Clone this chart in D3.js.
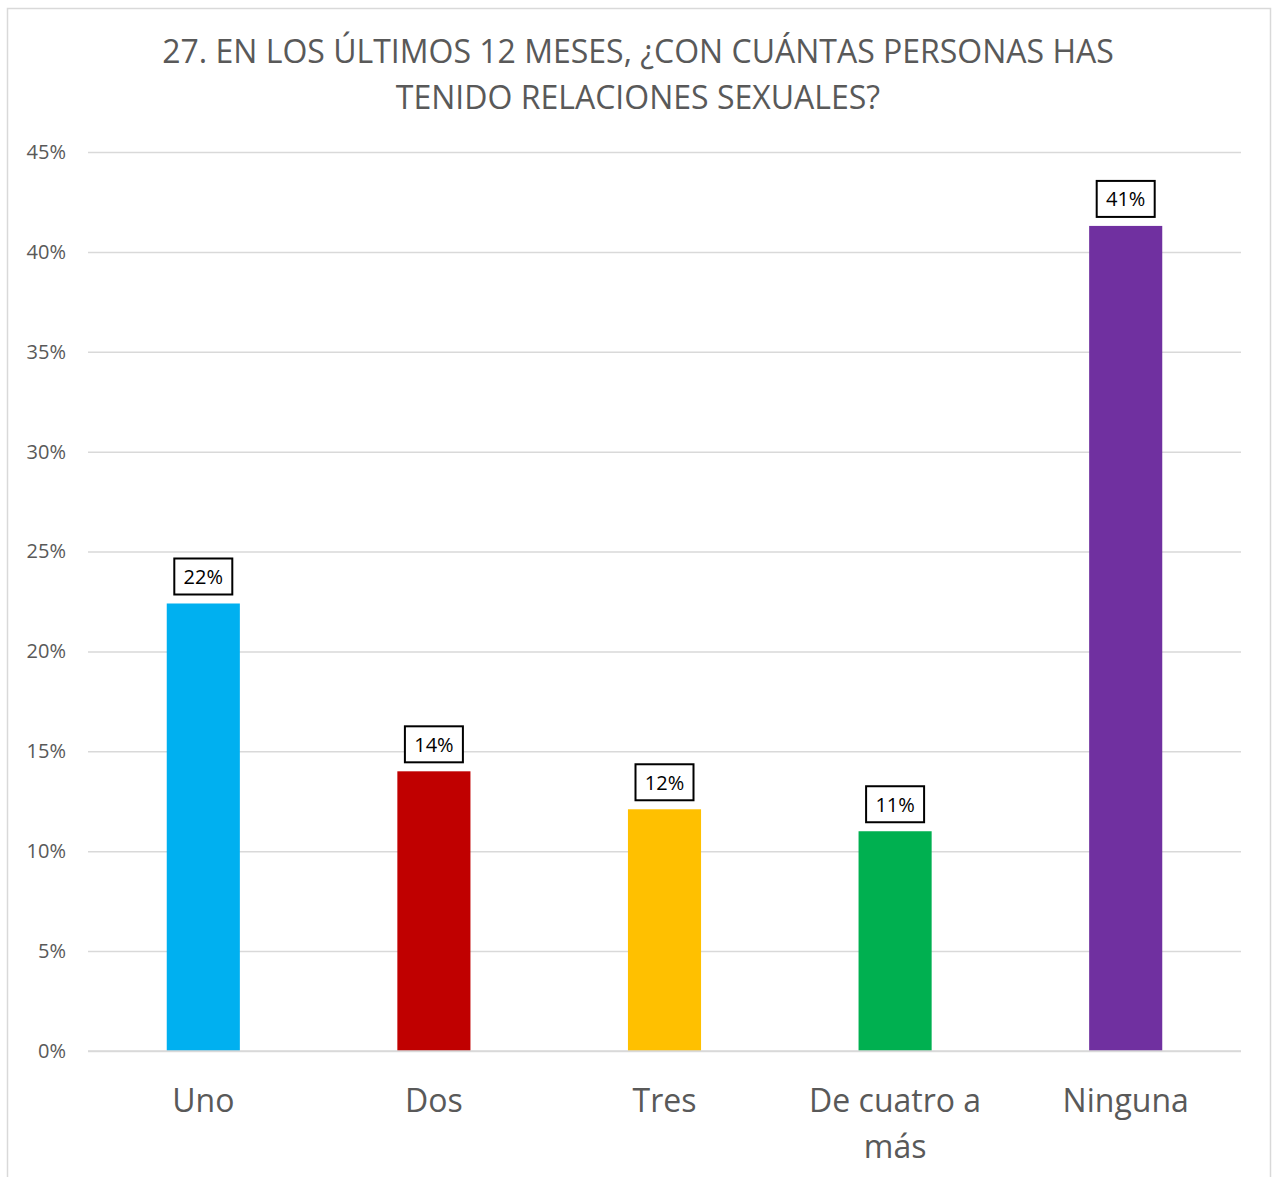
<!DOCTYPE html>
<html>
<head>
<meta charset="utf-8">
<script src="https://cdn.jsdelivr.net/npm/d3@7"></script>
<style>
  body { margin: 0; background: #fff; }
  svg { display: block; }
</style>
</head>
<body>
<div id="chart"></div>
<script>
// data
var categories = ["Uno", "Dos", "Tres", "De cuatro a más", "Ninguna"];
var values = [0.224, 0.140, 0.121, 0.110, 0.413];
var labels = ["22%", "14%", "12%", "11%", "41%"];
var colors = ["#00B0F0", "#C00000", "#FFC000", "#00B050", "#7030A0"];
var yTicks = [0, 0.05, 0.10, 0.15, 0.20, 0.25, 0.30, 0.35, 0.40, 0.45];
var titleLines = ["27. EN LOS ÚLTIMOS 12 MESES, ¿CON CUÁNTAS PERSONAS HAS", "TENIDO RELACIONES SEXUALES?"];

var W = 1272, H = 1177;
var margin = {top: 152, right: 31, bottom: 126, left: 88},
    width = W - margin.left - margin.right,
    height = H - margin.top - margin.bottom;
var font = "'Open Sans', 'Noto Sans', sans-serif";

var svg = d3.select("#chart").append("svg")
    .attr("width", W)
    .attr("height", H);

// chart frame
svg.append("rect")
    .attr("x", 7.5).attr("y", 8.5)
    .attr("width", 1263).attr("height", 1190)
    .attr("fill", "#fff")
    .attr("stroke", "#d9d9d9")
    .attr("stroke-width", 1.5);

// title
svg.append("text")
    .attr("x", 638)
    .attr("text-anchor", "middle")
    .style("font-family", font)
    .style("font-size", "32px")
    .attr("fill", "#595959")
    .selectAll("tspan")
    .data(titleLines)
    .enter().append("tspan")
    .attr("x", 638)
    .attr("y", function(d, i) { return 63 + i * 46; })
    .text(function(d) { return d; });

var g = svg.append("g")
    .attr("transform", "translate(" + margin.left + "," + margin.top + ")");

var x = d3.scaleBand()
    .domain(categories)
    .range([0, width])
    .padding(0);
var barW = x.bandwidth() * 0.317;

var y = d3.scaleLinear()
    .domain([0, 0.45])
    .range([height, 0]);

// gridlines + y axis
var yAxis = g.append("g")
    .call(d3.axisLeft(y).tickValues(yTicks).tickFormat(d3.format(".0%")).tickSize(-width).tickPadding(22));
yAxis.select(".domain").remove();
yAxis.selectAll(".tick line").attr("stroke", "#d9d9d9").attr("stroke-width", 1.5);
yAxis.selectAll(".tick text")
    .attr("fill", "#595959")
    .style("font-family", font)
    .style("font-size", "20px");

// bars
g.selectAll(".bar")
    .data(values)
    .enter().append("rect")
    .attr("class", "bar")
    .attr("x", function(d, i) { return x(categories[i]) + (x.bandwidth() - barW) / 2; })
    .attr("width", barW)
    .attr("y", function(d) { return y(d); })
    .attr("height", function(d) { return height - y(d); })
    .attr("fill", function(d, i) { return colors[i]; });

// data labels in boxes
var lab = g.selectAll(".lab")
    .data(values)
    .enter().append("g")
    .attr("class", "lab")
    .attr("transform", function(d, i) {
      return "translate(" + (x(categories[i]) + x.bandwidth() / 2) + "," + (y(d) - 8) + ")";
    });
lab.append("rect")
    .attr("x", -29).attr("y", -37)
    .attr("width", 58).attr("height", 36)
    .attr("fill", "#fff")
    .attr("stroke", "#000")
    .attr("stroke-width", 2);
lab.append("text")
    .attr("y", -11.5)
    .attr("text-anchor", "middle")
    .style("font-family", font)
    .style("font-size", "20px")
    .attr("fill", "#000")
    .text(function(d, i) { return labels[i]; });

// category labels (wrapped like the original)
var catLines = {"De cuatro a más": ["De cuatro a", "más"]};
var xAxis = g.append("g").attr("transform", "translate(0," + height + ")");
xAxis.append("line")
    .attr("x1", 0).attr("x2", width)
    .attr("stroke", "#d9d9d9").attr("stroke-width", 1.5);
xAxis.selectAll(".cat")
    .data(categories)
    .enter().append("text")
    .attr("class", "cat")
    .attr("text-anchor", "middle")
    .style("font-family", font)
    .style("font-size", "32px")
    .attr("fill", "#595959")
    .each(function(c) {
      var lines = catLines[c] || [c];
      var cx = x(c) + x.bandwidth() / 2;
      d3.select(this).selectAll("tspan")
        .data(lines)
        .enter().append("tspan")
        .attr("x", cx)
        .attr("y", function(d, i) { return 61 + i * 46; })
        .text(function(d) { return d; });
    });
</script>
</body>
</html>
